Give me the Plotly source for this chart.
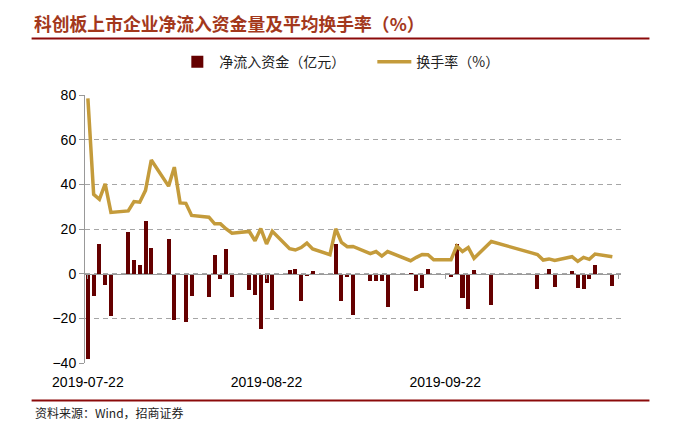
import plotly.graph_objects as go

dates = [
    "2019-07-22", "2019-07-23", "2019-07-24", "2019-07-25", "2019-07-26",
    "2019-07-29", "2019-07-30", "2019-07-31", "2019-08-01", "2019-08-02",
    "2019-08-05", "2019-08-06", "2019-08-07", "2019-08-08", "2019-08-09",
    "2019-08-12", "2019-08-13", "2019-08-14", "2019-08-15", "2019-08-16",
    "2019-08-19", "2019-08-20", "2019-08-21", "2019-08-22", "2019-08-23",
    "2019-08-26", "2019-08-27", "2019-08-28", "2019-08-29", "2019-08-30",
    "2019-09-02", "2019-09-03", "2019-09-04", "2019-09-05", "2019-09-06",
    "2019-09-09", "2019-09-10", "2019-09-11", "2019-09-12",
    "2019-09-16", "2019-09-17", "2019-09-18", "2019-09-19", "2019-09-20",
    "2019-09-23", "2019-09-24", "2019-09-25", "2019-09-26", "2019-09-27",
    "2019-09-30",
    "2019-10-08", "2019-10-09", "2019-10-10", "2019-10-11",
    "2019-10-14", "2019-10-15", "2019-10-16", "2019-10-17", "2019-10-18",
    "2019-10-21",
]

net_inflow = [
    -38.0, -9.8, 13.3, -5.0, -18.8,
    18.5, 6.3, 3.9, 23.6, 11.6,
    15.4, -20.7, 0.0, -21.8, -9.8,
    -10.4, 8.3, -2.4, 10.9, -10.3,
    -7.3, -9.7, -24.9, -4.0, -16.3,
    1.5, 2.1, -12.1, -1.0, 1.2,
    0.0, 13.3, -12.1, -1.4, -18.4,
    -3.1, -3.1, -3.1, -14.9,
    -0.5, -7.6, -6.5, 2.0, 0.0,
    -1.3, 13.3, -11.0, -16.0, 1.7,
    -14.0,
    -6.8, 0.0, 2.0, -5.9,
    1.1, -6.5, -7.0, -2.4, 4.1,
    -5.5,
]

turnover = [
    78.5, 35.5, 33.3, 40.2, 27.4,
    28.1, 32.3, 32.0, 37.3, 50.9,
    39.2, 47.7, 31.7, 31.5, 26.1,
    25.3, 22.3, 22.3, 20.0, 18.1,
    18.9, 14.7, 20.2, 13.3, 19.0,
    11.2, 10.6, 11.7, 13.7, 11.1,
    8.5, 20.1, 14.0, 12.1, 12.2,
    9.0, 9.9, 7.9, 9.9,
    5.8, 7.3, 8.6, 8.5, 6.2,
    6.2, 12.4, 9.9, 11.7, 6.9,
    14.4,
    8.6, 6.1, 6.6, 5.9,
    7.6, 5.5, 7.3, 6.4, 8.8,
    7.6,
]

tick_dates = ["2019-07-22", "2019-08-22", "2019-09-22", "2019-10-22"]
tick_labels = ["2019-07-22", "2019-08-22", "2019-09-22", ""]
y_ticks = [-40, -20, 0, 20, 40, 60, 80]

title_text = "科创板上市企业净流入资金量及平均换手率（%）"
bar_name = "净流入资金（亿元）"
line_name = "换手率（%）"
source_text = "资料来源：Wind，招商证券"

BAR_COLOR = "#650000"
LINE_COLOR = "#C49B3B"
RED = "#8B0A0A"
TITLE_COLOR = "#A3381C"
NUM_FONT = "Liberation Sans, Arial, sans-serif"
CJK_FONT = "Noto Sans CJK SC, sans-serif"

x_range = ["2019-07-21 12:00", "2019-10-22 12:00"]

fig = go.Figure()
fig.add_trace(go.Bar(
    x=dates, y=net_inflow, name=bar_name,
    marker=dict(color=BAR_COLOR, line=dict(width=0)),
    width=0.7 * 86400000,
))
fig.add_trace(go.Scatter(
    x=dates, y=turnover, name=line_name, mode="lines",
    line=dict(color=LINE_COLOR, width=3.5),
))
# helper trace so that the zero-line axis (with tick marks) is drawn
fig.add_trace(go.Scatter(
    x=[dates[0]], y=[None], xaxis="x2", yaxis="y",
    mode="markers", showlegend=False, hoverinfo="skip",
))

fig.update_layout(
    width=679, height=425,
    margin=dict(l=84.5, r=57.5, t=95, b=62, autoexpand=False),
    paper_bgcolor="white", plot_bgcolor="white",
    showlegend=True,
    bargap=0,
    title=dict(
        text=title_text, x=34 / 679, xref="container", xanchor="left",
        y=1 - 25 / 425, yref="container", yanchor="middle",
        font=dict(family=CJK_FONT, size=17.8, color=TITLE_COLOR, weight="bold"),
    ),
    legend=dict(
        orientation="h", x=(175 - 84.5) / 537, xanchor="left",
        y=1.123, yanchor="middle",
        font=dict(family=CJK_FONT, size=14, color="#222222"),
        bgcolor="rgba(0,0,0,0)", itemwidth=34, traceorder="normal",
        entrywidth=148, entrywidthmode="pixels",
    ),
    xaxis=dict(
        type="date", range=x_range,
        tickvals=tick_dates, ticktext=tick_labels,
        showgrid=False, showline=False, zeroline=False, ticks="",
        tickfont=dict(family=NUM_FONT, size=14, color="#000000"),
        ticklabelstandoff=9,
    ),
    xaxis2=dict(
        type="date", range=x_range, overlaying="x", anchor="free",
        position=1 / 3, tickvals=tick_dates, showticklabels=False,
        showgrid=False, showline=True, linecolor="#999999", linewidth=1,
        ticks="outside", ticklen=4, tickcolor="#999999", zeroline=False,
    ),
    yaxis=dict(
        range=[-40, 80], tickvals=y_ticks,
        showgrid=True, gridcolor="#A6A6A6", griddash="5px,4px", gridwidth=1,
        zeroline=False,
        showline=True, linecolor="#999999", linewidth=1,
        ticks="outside", ticklen=5, tickcolor="#999999",
        tickfont=dict(family=NUM_FONT, size=14, color="#000000"),
    ),
    shapes=[
        dict(type="line", xref="paper", yref="paper",
             x0=(31 - 84.5) / 537, x1=(650 - 84.5) / 537,
             y0=(363 - 38.5) / 268, y1=(363 - 38.5) / 268,
             line=dict(color=RED, width=2)),
        dict(type="line", xref="paper", yref="paper",
             x0=(31 - 84.5) / 537, x1=(650 - 84.5) / 537,
             y0=(363 - 400.5) / 268, y1=(363 - 400.5) / 268,
             line=dict(color=RED, width=2)),
    ],
    annotations=[
        dict(text=source_text, xref="paper", yref="paper",
             x=(32 - 84.5) / 537, y=(363 - 412) / 268,
             xanchor="left", yanchor="middle", showarrow=False,
             font=dict(family=CJK_FONT, size=12, color="#222222")),
    ],
)

fig.write_html(
    "out.html",
    config={"displayModeBar": False},
    post_script="document.body.style.margin='0px';document.body.style.padding='0px';",
)
